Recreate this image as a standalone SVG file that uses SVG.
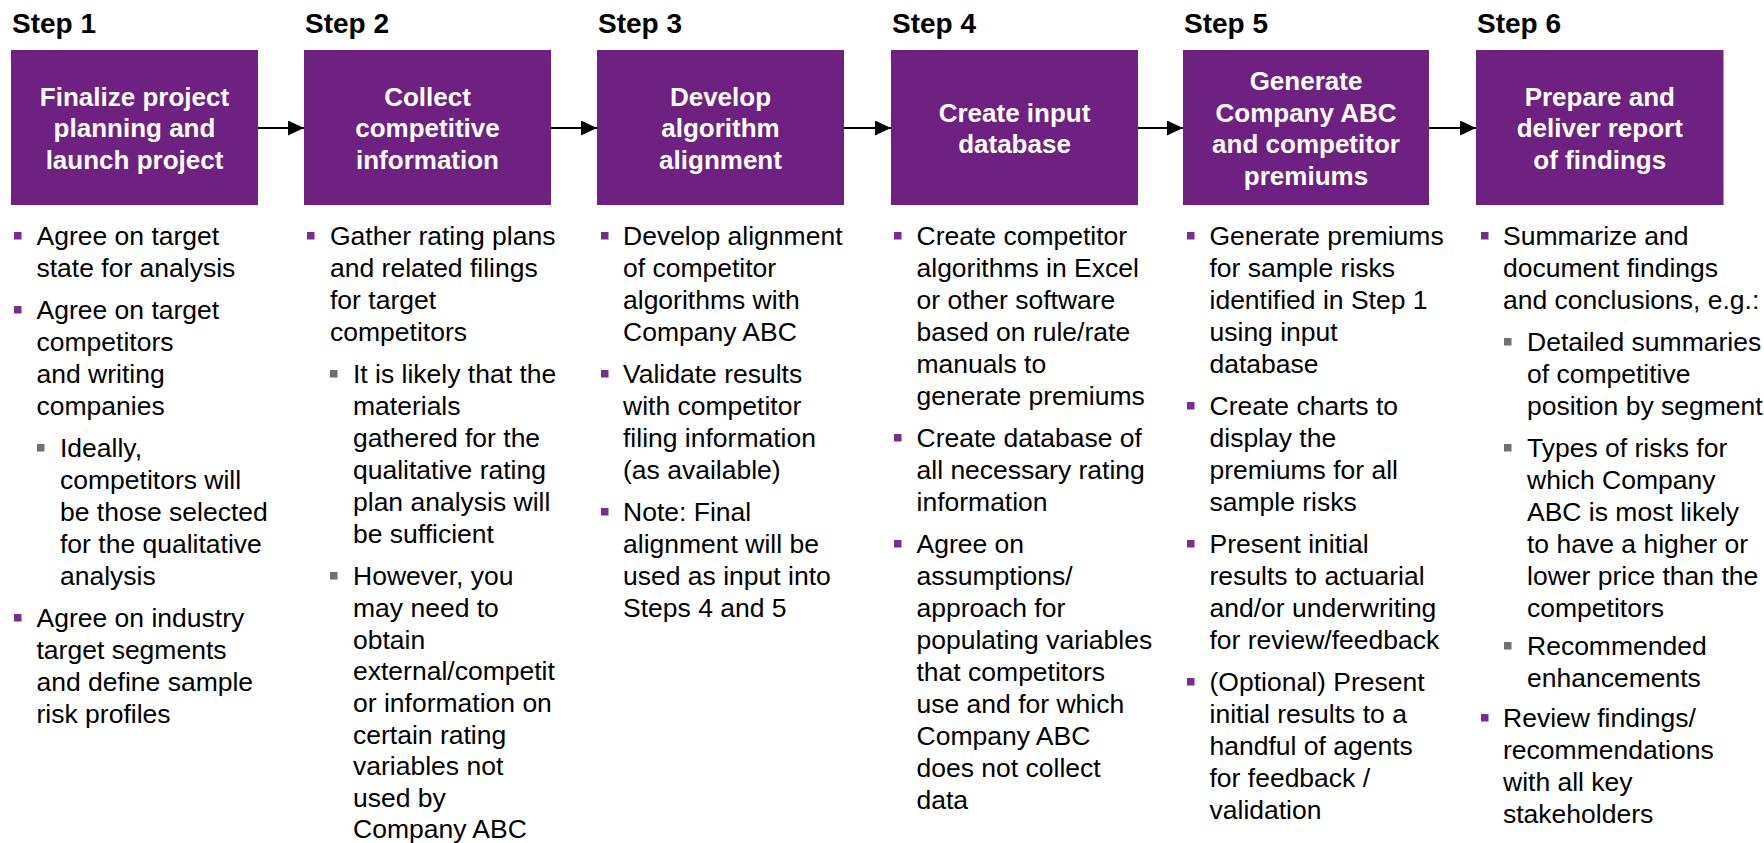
<svg xmlns="http://www.w3.org/2000/svg" width="1764" height="843" viewBox="0 0 1764 843">
<style>
.step{font-family:"Liberation Sans",Arial,sans-serif;font-weight:bold;font-size:28px;fill:#000}
.box{fill:#6E2180}
.title{font-family:"Liberation Sans",Arial,sans-serif;font-weight:bold;font-size:26px;fill:#fff;text-anchor:middle}
.body{font-family:"Liberation Sans",Arial,sans-serif;font-size:26.5px;fill:#000}
.b1{fill:#7B2C8F}
.b2{fill:#707070}
.conn{stroke:#000;stroke-width:2;fill:none}
</style>
<defs>
<marker id="ah" markerWidth="16" markerHeight="15" refX="16" refY="7.5" orient="auto" markerUnits="userSpaceOnUse">
<path d="M0,0 L16,7.5 L0,15 Z" fill="#000"/>
</marker>
</defs>
<rect width="1764" height="843" fill="#fff"/>

<g id="connectors">
<line class="conn" x1="258" y1="128" x2="304" y2="128" marker-end="url(#ah)"/>
<line class="conn" x1="551" y1="128" x2="597" y2="128" marker-end="url(#ah)"/>
<line class="conn" x1="844" y1="128" x2="891" y2="128" marker-end="url(#ah)"/>
<line class="conn" x1="1138" y1="128" x2="1183" y2="128" marker-end="url(#ah)"/>
<line class="conn" x1="1429" y1="128" x2="1476" y2="128" marker-end="url(#ah)"/>
</g>

<g id="step1">
<text class="step" x="12" y="33">Step 1</text>
<rect class="box" x="11" y="50" width="247" height="155"/>
<text class="title" x="134.5" y="105.6">Finalize project</text>
<text class="title" x="134.5" y="137.3">planning and</text>
<text class="title" x="134.5" y="169">launch project</text>
<rect class="b1" x="14" y="232" width="7.5" height="7.5"/>
<text class="body" x="36.5" y="245">Agree on target</text>
<text class="body" x="36.5" y="277">state for analysis</text>
<rect class="b1" x="14" y="306" width="7.5" height="7.5"/>
<text class="body" x="36.5" y="319">Agree on target</text>
<text class="body" x="36.5" y="351">competitors</text>
<text class="body" x="36.5" y="383">and writing</text>
<text class="body" x="36.5" y="415">companies</text>
<rect class="b2" x="37" y="444" width="7.5" height="7.5"/>
<text class="body" x="60" y="457">Ideally,</text>
<text class="body" x="60" y="489">competitors will</text>
<text class="body" x="60" y="521">be those selected</text>
<text class="body" x="60" y="553">for the qualitative</text>
<text class="body" x="60" y="585">analysis</text>
<rect class="b1" x="14" y="614" width="7.5" height="7.5"/>
<text class="body" x="36.5" y="627">Agree on industry</text>
<text class="body" x="36.5" y="659">target segments</text>
<text class="body" x="36.5" y="691">and define sample</text>
<text class="body" x="36.5" y="723">risk profiles</text>
</g>

<g id="step2">
<text class="step" x="305" y="33">Step 2</text>
<rect class="box" x="304" y="50" width="247" height="155"/>
<text class="title" x="427.5" y="105.6">Collect</text>
<text class="title" x="427.5" y="137.3">competitive</text>
<text class="title" x="427.5" y="169">information</text>
<rect class="b1" x="307" y="232" width="7.5" height="7.5"/>
<text class="body" x="330" y="245">Gather rating plans</text>
<text class="body" x="330" y="277">and related filings</text>
<text class="body" x="330" y="309">for target</text>
<text class="body" x="330" y="341">competitors</text>
<rect class="b2" x="330" y="370" width="7.5" height="7.5"/>
<text class="body" x="353" y="383">It is likely that the</text>
<text class="body" x="353" y="415">materials</text>
<text class="body" x="353" y="447">gathered for the</text>
<text class="body" x="353" y="479">qualitative rating</text>
<text class="body" x="353" y="511">plan analysis will</text>
<text class="body" x="353" y="543">be sufficient</text>
<rect class="b2" x="330" y="572" width="7.5" height="7.5"/>
<text class="body" x="353" y="585">However, you</text>
<text class="body" x="353" y="617">may need to</text>
<text class="body" x="353" y="648.5">obtain</text>
<text class="body" x="353" y="680">external/competit</text>
<text class="body" x="353" y="712">or information on</text>
<text class="body" x="353" y="743.5">certain rating</text>
<text class="body" x="353" y="775">variables not</text>
<text class="body" x="353" y="806.5">used by</text>
<text class="body" x="353" y="838">Company ABC</text>
</g>

<g id="step3">
<text class="step" x="598" y="33">Step 3</text>
<rect class="box" x="597" y="50" width="247" height="155"/>
<text class="title" x="720.5" y="105.6">Develop</text>
<text class="title" x="720.5" y="137.3">algorithm</text>
<text class="title" x="720.5" y="169">alignment</text>
<rect class="b1" x="601" y="232" width="7.5" height="7.5"/>
<text class="body" x="623" y="245">Develop alignment</text>
<text class="body" x="623" y="277">of competitor</text>
<text class="body" x="623" y="309">algorithms with</text>
<text class="body" x="623" y="341">Company ABC</text>
<rect class="b1" x="601" y="370" width="7.5" height="7.5"/>
<text class="body" x="623" y="383">Validate results</text>
<text class="body" x="623" y="415">with competitor</text>
<text class="body" x="623" y="447">filing information</text>
<text class="body" x="623" y="479">(as available)</text>
<rect class="b1" x="601" y="508" width="7.5" height="7.5"/>
<text class="body" x="623" y="521">Note: Final</text>
<text class="body" x="623" y="553">alignment will be</text>
<text class="body" x="623" y="585">used as input into</text>
<text class="body" x="623" y="617">Steps 4 and 5</text>
</g>

<g id="step4">
<text class="step" x="892" y="33">Step 4</text>
<rect class="box" x="891" y="50" width="247" height="155"/>
<text class="title" x="1014.5" y="121.5">Create input</text>
<text class="title" x="1014.5" y="153.2">database</text>
<rect class="b1" x="894" y="232" width="7.5" height="7.5"/>
<text class="body" x="916.5" y="245">Create competitor</text>
<text class="body" x="916.5" y="277">algorithms in Excel</text>
<text class="body" x="916.5" y="309">or other software</text>
<text class="body" x="916.5" y="341">based on rule/rate</text>
<text class="body" x="916.5" y="373">manuals to</text>
<text class="body" x="916.5" y="405">generate premiums</text>
<rect class="b1" x="894" y="434" width="7.5" height="7.5"/>
<text class="body" x="916.5" y="447">Create database of</text>
<text class="body" x="916.5" y="479">all necessary rating</text>
<text class="body" x="916.5" y="511">information</text>
<rect class="b1" x="894" y="540" width="7.5" height="7.5"/>
<text class="body" x="916.5" y="553">Agree on</text>
<text class="body" x="916.5" y="585">assumptions/</text>
<text class="body" x="916.5" y="617">approach for</text>
<text class="body" x="916.5" y="649">populating variables</text>
<text class="body" x="916.5" y="681">that competitors</text>
<text class="body" x="916.5" y="713">use and for which</text>
<text class="body" x="916.5" y="745">Company ABC</text>
<text class="body" x="916.5" y="777">does not collect</text>
<text class="body" x="916.5" y="809">data</text>
</g>

<g id="step5">
<text class="step" x="1184" y="33">Step 5</text>
<rect class="box" x="1183" y="50" width="246" height="155"/>
<text class="title" x="1306" y="89.8">Generate</text>
<text class="title" x="1306" y="121.5">Company ABC</text>
<text class="title" x="1306" y="153.2">and competitor</text>
<text class="title" x="1306" y="184.8">premiums</text>
<rect class="b1" x="1187" y="232" width="7.5" height="7.5"/>
<text class="body" x="1209.5" y="245">Generate premiums</text>
<text class="body" x="1209.5" y="277">for sample risks</text>
<text class="body" x="1209.5" y="309">identified in Step 1</text>
<text class="body" x="1209.5" y="341">using input</text>
<text class="body" x="1209.5" y="373">database</text>
<rect class="b1" x="1187" y="402" width="7.5" height="7.5"/>
<text class="body" x="1209.5" y="415">Create charts to</text>
<text class="body" x="1209.5" y="447">display the</text>
<text class="body" x="1209.5" y="479">premiums for all</text>
<text class="body" x="1209.5" y="511">sample risks</text>
<rect class="b1" x="1187" y="540" width="7.5" height="7.5"/>
<text class="body" x="1209.5" y="553">Present initial</text>
<text class="body" x="1209.5" y="585">results to actuarial</text>
<text class="body" x="1209.5" y="617">and/or underwriting</text>
<text class="body" x="1209.5" y="649">for review/feedback</text>
<rect class="b1" x="1187" y="678" width="7.5" height="7.5"/>
<text class="body" x="1209.5" y="691">(Optional) Present</text>
<text class="body" x="1209.5" y="723">initial results to a</text>
<text class="body" x="1209.5" y="755">handful of agents</text>
<text class="body" x="1209.5" y="787">for feedback /</text>
<text class="body" x="1209.5" y="819">validation</text>
</g>

<g id="step6">
<text class="step" x="1477" y="33">Step 6</text>
<rect class="box" x="1476" y="50" width="247.5" height="155"/>
<text class="title" x="1599.8" y="105.6">Prepare and</text>
<text class="title" x="1599.8" y="137.3">deliver report</text>
<text class="title" x="1599.8" y="169">of findings</text>
<rect class="b1" x="1481" y="232" width="7.5" height="7.5"/>
<text class="body" x="1503" y="245">Summarize and</text>
<text class="body" x="1503" y="277">document findings</text>
<text class="body" x="1503" y="309">and conclusions, e.g.:</text>
<rect class="b2" x="1504" y="338" width="7.5" height="7.5"/>
<text class="body" x="1527" y="351">Detailed summaries</text>
<text class="body" x="1527" y="383">of competitive</text>
<text class="body" x="1527" y="415">position by segment</text>
<rect class="b2" x="1504" y="444" width="7.5" height="7.5"/>
<text class="body" x="1527" y="457">Types of risks for</text>
<text class="body" x="1527" y="489">which Company</text>
<text class="body" x="1527" y="521">ABC is most likely</text>
<text class="body" x="1527" y="553">to have a higher or</text>
<text class="body" x="1527" y="585">lower price than the</text>
<text class="body" x="1527" y="617">competitors</text>
<rect class="b2" x="1504" y="642" width="7.5" height="7.5"/>
<text class="body" x="1527" y="655">Recommended</text>
<text class="body" x="1527" y="687">enhancements</text>
<rect class="b1" x="1481" y="714" width="7.5" height="7.5"/>
<text class="body" x="1503" y="727">Review findings/</text>
<text class="body" x="1503" y="759">recommendations</text>
<text class="body" x="1503" y="791">with all key</text>
<text class="body" x="1503" y="823">stakeholders</text>
</g>
</svg>
